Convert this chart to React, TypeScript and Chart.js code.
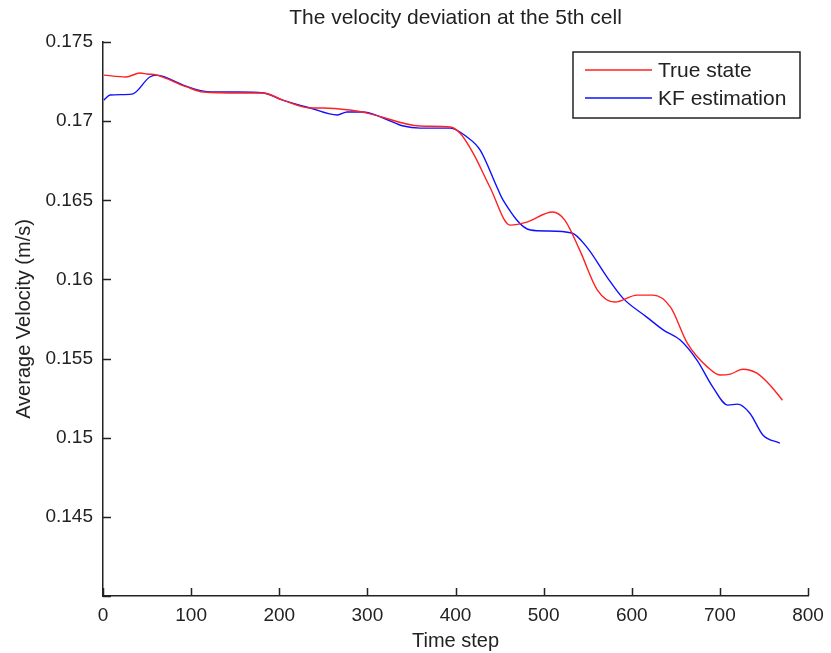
import React, { useEffect, useRef } from "react";
import { Chart, registerables } from "chart.js";

Chart.register(...registerables);

const chartTitle = "The velocity deviation at the 5th cell";
const xAxisTitle = "Time step";
const yAxisTitle = "Average Velocity (m/s)";
const seriesNames = ["True state", "KF estimation"];

const trueSteps = [1, 26, 42, 50, 61, 95, 114, 156, 182, 204, 235, 250, 280, 300, 360, 394, 405, 420, 439, 462, 481, 510, 524, 541, 561, 581, 606, 624, 644, 663, 686, 700, 712, 726, 742, 757, 771];
const trueValues = [0.17291, 0.17279, 0.17304, 0.17298, 0.17291, 0.17216, 0.17184, 0.17178, 0.17178, 0.17133, 0.17083, 0.17083, 0.1707, 0.17051, 0.16969, 0.16963, 0.16925, 0.16798, 0.16584, 0.16343, 0.16362, 0.16426, 0.16375, 0.16185, 0.15933, 0.15857, 0.15901, 0.15901, 0.15825, 0.15598, 0.15446, 0.15396, 0.15402, 0.15433, 0.15408, 0.15332, 0.15237];

const kfSteps = [1, 8, 33, 53, 61, 76, 91, 114, 136, 152, 182, 204, 235, 266, 277, 295, 318, 341, 360, 394, 413, 428, 447, 454, 485, 504, 532, 549, 572, 590, 617, 636, 655, 674, 692, 709, 720, 734, 749, 768];
const kfValues = [0.17133, 0.17165, 0.17171, 0.17279, 0.17291, 0.17266, 0.17228, 0.1719, 0.17184, 0.17184, 0.17178, 0.17133, 0.17083, 0.17039, 0.17058, 0.17058, 0.1702, 0.16969, 0.16956, 0.16956, 0.169, 0.16817, 0.16584, 0.16501, 0.16312, 0.16306, 0.16293, 0.16204, 0.16015, 0.15882, 0.15762, 0.1568, 0.15617, 0.1549, 0.1532, 0.15206, 0.15212, 0.15155, 0.15016, 0.14966];

const xMin = 0, xMax = 800, xStep = 100;
const yMin = 0.14, yMax = 0.175, yStep = 0.005;
const hiddenYLabels = [0.14];

const FONT = "'Liberation Sans', Arial, Helvetica, sans-serif";
const TEXT = "#222";
const AXIS = "#222";
const RED = "#ff2020";
const BLUE = "#1010ff";

const decorPlugin = {
  id: "decor",
  afterDraw(chart: any) {
    const { ctx, chartArea } = chart;
    const xs = chart.scales.x;
    const ys = chart.scales.y;
    ctx.save();
    // inward tick marks
    ctx.strokeStyle = AXIS;
    ctx.lineWidth = 1.5;
    ctx.beginPath();
    xs.ticks.forEach((t: any) => {
      const px = Math.round(xs.getPixelForValue(t.value)) + 0.5;
      ctx.moveTo(px, chartArea.bottom);
      ctx.lineTo(px, chartArea.bottom - 8);
    });
    ys.ticks.forEach((t: any) => {
      const py = Math.round(ys.getPixelForValue(t.value)) + 0.5;
      ctx.moveTo(chartArea.left, py);
      ctx.lineTo(chartArea.left + 8, py);
    });
    ctx.stroke();
    // title
    ctx.fillStyle = TEXT;
    ctx.font = `21px ${FONT}`;
    ctx.textAlign = "center";
    ctx.textBaseline = "middle";
    ctx.fillText(chartTitle, (chartArea.left + chartArea.right) / 2, 18);
    // legend
    const w = 227, h = 66;
    const bx = chartArea.right - 8 - w;
    const by = chartArea.top + 10;
    ctx.fillStyle = "#fff";
    ctx.fillRect(bx, by, w, h);
    ctx.strokeStyle = "#222";
    ctx.lineWidth = 1.5;
    ctx.strokeRect(bx, by, w, h);
    const colors = [RED, BLUE];
    const rows = [by + 18, by + 46];
    ctx.font = `21px ${FONT}`;
    ctx.textAlign = "left";
    seriesNames.forEach((name, i) => {
      ctx.strokeStyle = colors[i];
      ctx.lineWidth = 1.5;
      ctx.beginPath();
      ctx.moveTo(bx + 12, rows[i]);
      ctx.lineTo(bx + 79, rows[i]);
      ctx.stroke();
      ctx.fillStyle = TEXT;
      ctx.fillText(name, bx + 85, rows[i] + 1);
    });
    ctx.restore();
  },
};

export default function App() {
  const canvasRef = useRef<HTMLCanvasElement | null>(null);

  useEffect(() => {
    const canvas = canvasRef.current;
    if (!canvas) return;
    const chart = new Chart(canvas, {
      type: "line",
      data: {
        datasets: [
          {
            label: seriesNames[0],
            data: trueSteps.map((s, i) => ({ x: s, y: trueValues[i] })),
            borderColor: RED,
            borderWidth: 1.4,
            pointRadius: 0,
            fill: false,
            cubicInterpolationMode: "monotone",
          },
          {
            label: seriesNames[1],
            data: kfSteps.map((s, i) => ({ x: s, y: kfValues[i] })),
            borderColor: BLUE,
            borderWidth: 1.4,
            pointRadius: 0,
            fill: false,
            cubicInterpolationMode: "monotone",
          },
        ],
      },
      options: {
        animation: false,
        responsive: false,
        maintainAspectRatio: false,
        layout: { padding: { top: 42, right: 23, left: 0, bottom: 0 } },
        plugins: { legend: { display: false }, title: { display: false }, tooltip: { enabled: false } },
        scales: {
          x: {
            type: "linear",
            min: xMin,
            max: xMax,
            grid: { display: false },
            border: { display: true, color: AXIS, width: 1.5 },
            ticks: {
              stepSize: xStep,
              padding: 0,
              color: TEXT,
              font: { family: FONT, size: 19 },
              maxRotation: 0,
            },
            title: {
              display: true,
              text: xAxisTitle,
              color: TEXT,
              font: { family: FONT, size: 20 },
              padding: { top: 0, bottom: 0 },
            },
            afterFit(scale: any) {
              scale.height = 57;
            },
          },
          y: {
            type: "linear",
            min: yMin,
            max: yMax,
            grid: { display: false },
            border: { display: true, color: AXIS, width: 1.5 },
            ticks: {
              stepSize: yStep,
              padding: 2,
              color: TEXT,
              font: { family: FONT, size: 19 },
              callback: (v: any) => {
                const n = Number(v);
                if (hiddenYLabels.some((h) => Math.abs(h - n) < 1e-9)) return "";
                return String(parseFloat(n.toFixed(3)));
              },
            },
            title: {
              display: true,
              text: yAxisTitle,
              color: TEXT,
              font: { family: FONT, size: 20 },
              padding: { top: 12, bottom: 0 },
            },
            afterFit(scale: any) {
              scale.width = 103;
            },
          },
        },
      },
      plugins: [decorPlugin],
    } as any);
    return () => chart.destroy();
  }, []);

  return (
    <div style={{ position: "fixed", left: 0, top: 0, width: 831, height: 653, background: "#fff" }}>
      <canvas ref={canvasRef} width={831} height={653} style={{ width: 831, height: 653 }} />
    </div>
  );
}
